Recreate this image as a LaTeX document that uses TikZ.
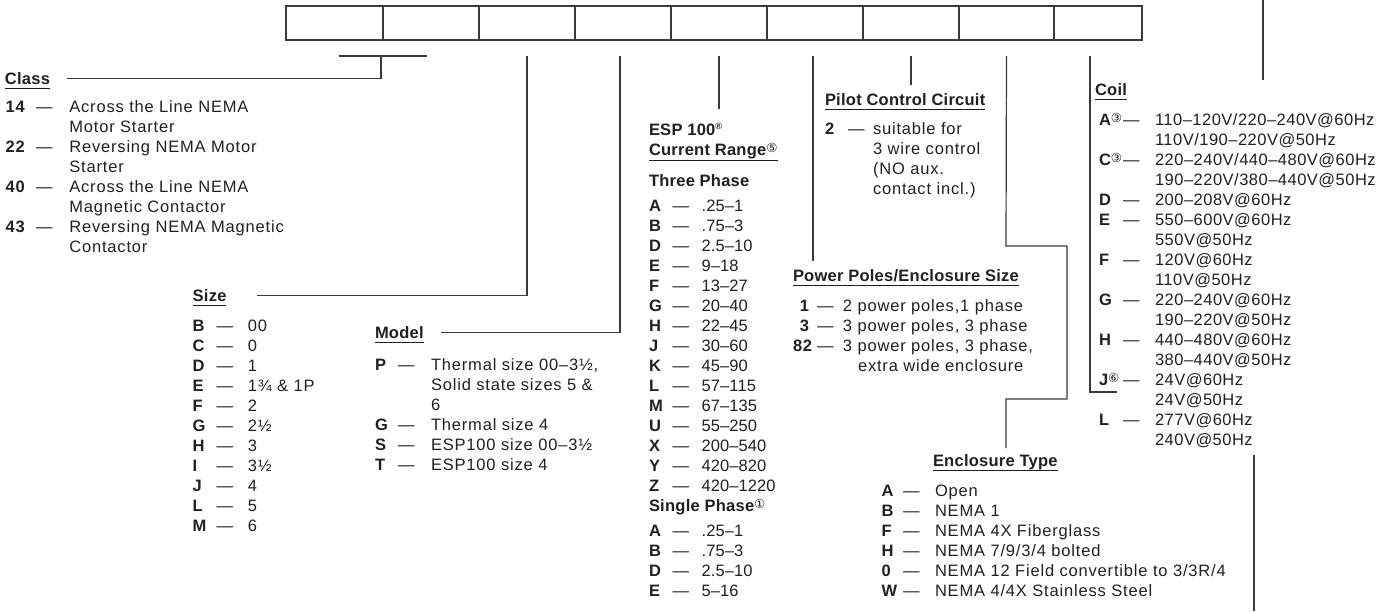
\documentclass[tikz,border=0pt]{standalone}
\usepackage{fontspec}
\usepackage{array}
\setmainfont{Liberation Sans}[LetterSpace=5]
\newfontfamily\hdfont{Liberation Sans}[LetterSpace=1.5]
\newfontfamily\numfont{Liberation Sans}[LetterSpace=0.5]
\newfontfamily\coilfont{Liberation Sans}[LetterSpace=3]
\newfontfamily\circfont{DejaVu Sans}
\usetikzlibrary{calc}
\definecolor{txt}{HTML}{231F20}
\definecolor{ln}{HTML}{3A3A3A}
\newcommand{\circsup}[1]{\raisebox{3pt}{\circfont\mdseries\fontsize{12.5}{12.5}\selectfont #1}}
\newcommand{\regsup}{\raisebox{6pt}{\fontsize{9}{9}\selectfont ®}}
\newcolumntype{K}[1]{>{\bfseries}p{#1}}
\newcolumntype{R}[1]{>{\bfseries\raggedleft\arraybackslash}p{#1}}
\newcolumntype{N}{>{\numfont}l}
\newcolumntype{V}{>{\coilfont}l}
\begin{document}
\begin{tikzpicture}[x=1pt,y=-1pt,
  every node/.style={inner sep=0pt, outer sep=0pt, text=txt, font=\fontsize{16.5}{20}\selectfont},
  cell/.style={draw=ln, line width=1.2pt, minimum height=34pt, anchor=north west},
  conn/.style={draw=ln, line width=1.2pt},
  hd/.style={font=\fontsize{16.5}{20}\selectfont\hdfont\bfseries, anchor=base west},
  lst/.style={anchor=base west},
  uline/.style={draw=txt, line width=1pt}]
\useasboundingbox (0,0) rectangle (1385,611);

% code boxes
\node[cell, minimum width=97pt] (b1) at (286,6) {};
\node[cell, minimum width=96pt] (b2) at (383,6) {};
\node[cell, minimum width=96pt] (b3) at (479,6) {};
\node[cell, minimum width=96pt] (b4) at (575,6) {};
\node[cell, minimum width=96pt] (b5) at (671,6) {};
\node[cell, minimum width=96pt] (b6) at (767,6) {};
\node[cell, minimum width=96pt] (b7) at (863,6) {};
\node[cell, minimum width=95pt] (b8) at (959,6) {};
\node[cell, minimum width=88pt] (b9) at (1054,6) {};

% ---------- Class
\node[hd] (classh) at (5,84) {Class};
\draw[uline] ([yshift=-4.5pt]classh.base west) -- ([yshift=-4.5pt]classh.base east);
\node[lst] (classl) at (5.7,112) {\begin{tabular}[t]{@{}K{30.3pt}@{}p{33.3pt}@{}l@{}}
14 & — & Across the Line NEMA\\
   &   & Motor Starter\\
22 & — & Reversing NEMA Motor\\
   &   & Starter\\
40 & — & Across the Line NEMA\\
   &   & Magnetic Contactor\\
43 & — & Reversing NEMA Magnetic\\
   &   & Contactor
\end{tabular}};
\draw[conn] ([xshift=4pt,yshift=-16pt]b1.south) -- ([xshift=-4pt,yshift=-16pt]b2.south);
\draw[conn] ([xshift=-2pt,yshift=-16pt]b1.south east) |- ([xshift=17pt]classh.east);

% ---------- Size
\node[hd] (sizeh) at (192.7,301) {Size};
\draw[uline] ([yshift=-4.5pt]sizeh.base west) -- ([yshift=-4.5pt]sizeh.base east);
\node[lst] (sizel) at (192.7,331) {\begin{tabular}[t]{@{}K{24pt}@{}p{31.3pt}@{}l@{}}
B & — & 00\\
C & — & 0\\
D & — & 1\\
E & — & 1¾ \& 1P\\
F & — & 2\\
G & — & 2½\\
H & — & 3\\
I & — & 3½\\
J & — & 4\\
L & — & 5\\
M & — & 6
\end{tabular}};
\draw[conn] ([yshift=-16pt]b3.south) |- ([xshift=31pt]sizeh.east);

% ---------- Model
\node[hd] (modelh) at (375,338) {Model};
\draw[uline] ([yshift=-4.5pt]modelh.base west) -- ([yshift=-4.5pt]modelh.base east);
\node[lst] (modell) at (375,370) {\begin{tabular}[t]{@{}K{23pt}@{}p{33pt}@{}l@{}}
P & — & Thermal size 00–3½,\\
  &   & Solid state sizes 5 \&\\
  &   & 6\\
G & — & Thermal size 4\\
S & — & ESP100 size 00–3½\\
T & — & ESP100 size 4
\end{tabular}};
\draw[conn] ([xshift=-3pt,yshift=-16pt]b4.south) |- ([xshift=17pt]modelh.east);

% ---------- ESP 100 current range
\node[hd] (esph1) at (649,135) {ESP 100\regsup};
\node[hd] (esph2) at (649,155) {Current Range\circsup{⑤}};
\draw[uline] ([yshift=-5pt]esph2.base west) -- ([yshift=-5pt]esph2.base east);
\coordinate (espend) at (719,109);
\draw[conn] ([yshift=-16pt]b5.south) -- (espend);
\node[hd] (threeh) at (649,186) {Three Phase};
\node[lst] (threel) at (649,211) {\begin{tabular}[t]{@{}K{23.7pt}@{}p{29pt}@{}N@{}}
A & — & .25–1\\
B & — & .75–3\\
D & — & 2.5–10\\
E & — & 9–18\\
F & — & 13–27\\
G & — & 20–40\\
H & — & 22–45\\
J & — & 30–60\\
K & — & 45–90\\
L & — & 57–115\\
M & — & 67–135\\
U & — & 55–250\\
X & — & 200–540\\
Y & — & 420–820\\
Z & — & 420–1220
\end{tabular}};
\node[hd] (singleh) at (649,511) {Single Phase\circsup{①}};
\node[lst] (singlel) at (649,536) {\begin{tabular}[t]{@{}K{23.7pt}@{}p{29pt}@{}N@{}}
A & — & .25–1\\
B & — & .75–3\\
D & — & 2.5–10\\
E & — & 5–16
\end{tabular}};

% ---------- Power poles / enclosure size
\node[hd] (powerh) at (793,281) {Power Poles/Enclosure Size};
\draw[uline] ([yshift=-4.5pt]powerh.base west) -- ([yshift=-4.5pt]powerh.base east);
\node[lst] (powerl) at (793,311) {\begin{tabular}[t]{@{}R{16pt}@{\hspace{8pt}}p{26pt}@{}l@{}}
1 & — & 2 power poles,1 phase\\
3 & — & 3 power poles, 3 phase\\
82 & — & 3 power poles, 3 phase,\\
   &   & \hspace{15pt}extra wide enclosure
\end{tabular}};
\coordinate (powend) at (813,261);
\draw[conn] ([xshift=-2pt,yshift=-16pt]b6.south) -- (powend);

% ---------- Pilot control circuit
\node[hd] (piloth) at (825,105) {Pilot Control Circuit};
\draw[uline] ([yshift=-4.5pt]piloth.base west) -- ([yshift=-4.5pt]piloth.base east);
\node[lst] (pilotl) at (825,134) {\begin{tabular}[t]{@{}K{23pt}@{}p{25pt}@{}l@{}}
2 & — & suitable for\\
  &   & 3 wire control\\
  &   & (NO aux.\\
  &   & contact incl.)
\end{tabular}};
\coordinate (pilend) at (911,85);
\draw[conn] ([yshift=-16pt]b7.south) -- (pilend);

% ---------- Enclosure type
\node[hd] (enclh) at (933,466) {Enclosure Type};
\draw[uline] ([yshift=-4.5pt]enclh.base west) -- ([yshift=-4.5pt]enclh.base east);
\node[lst] (encll) at (881.7,496) {\begin{tabular}[t]{@{}K{21.3pt}@{}p{32pt}@{}l@{}}
A & — & Open\\
B & — & NEMA 1\\
F & — & NEMA 4X Fiberglass\\
H & — & NEMA 7/9/3/4 bolted\\
0 & — & NEMA 12 Field convertible to 3/3R/4\\
W & — & NEMA 4/4X Stainless Steel
\end{tabular}};
\coordinate (e1) at (1006,246);
\coordinate (e2) at (1067,246);
\coordinate (e3) at (1067,399);
\coordinate (e4) at (1006,399);
\coordinate (e5) at (1006,448);
\draw[conn] ([yshift=-16pt]b8.south) -- (e1) -- (e2) -- (e3) -- (e4) -- (e5);

% ---------- Coil
\node[hd] (coilh) at (1095,95) {Coil};
\draw[uline] ([yshift=-4.5pt]coilh.base west) -- ([yshift=-4.5pt]coilh.base east);
\node[lst] (coill) at (1099,125) {\begin{tabular}[t]{@{}K{24pt}@{}p{32pt}@{}V@{}}
A\circsup{③} & — & 110–120V/220–240V@60Hz\\
  &   & 110V/190–220V@50Hz\\
C\circsup{③} & — & 220–240V/440–480V@60Hz\\
  &   & 190–220V/380–440V@50Hz\\
D & — & 200–208V@60Hz\\
E & — & 550–600V@60Hz\\
  &   & 550V@50Hz\\
F & — & 120V@60Hz\\
  &   & 110V@50Hz\\
G & — & 220–240V@60Hz\\
  &   & 190–220V@50Hz\\
H & — & 440–480V@60Hz\\
  &   & 380–440V@50Hz\\
J\circsup{⑥} & — & 24V@60Hz\\
  &   & 24V@50Hz\\
L & — & 277V@60Hz\\
  &   & 240V@50Hz
\end{tabular}};
\coordinate (coilend) at (1117,392);
\draw[conn] ([xshift=-8pt,yshift=-16pt]b9.south) |- (coilend);

% ---------- side leader lines
\coordinate (tr1) at (1263,0);
\coordinate (tr2) at (1263,80);
\draw[conn] (tr1) -- (tr2);
\coordinate (br1) at (1254,455);
\coordinate (br2) at (1254,611);
\draw[conn] (br1) -- (br2);
\end{tikzpicture}
\end{document}
